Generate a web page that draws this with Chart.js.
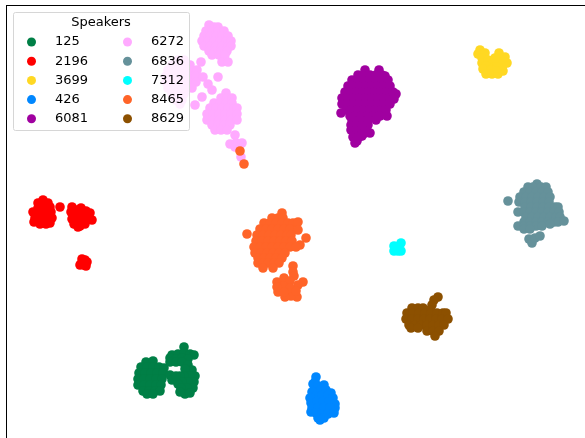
<!DOCTYPE html>
<html>
<head>
<meta charset="utf-8">
<style>
  html, body { margin: 0; padding: 0; background: #fff; }
  #wrap { width: 585px; height: 438px; }
</style>
<script src="https://cdn.jsdelivr.net/npm/chart.js@4"></script>
</head>
<body>
<div id="wrap"><canvas id="chart" width="585" height="438"></canvas></div>
<script>
const speakers = ["125", "2196", "3699", "426", "6081", "6272", "6836", "7312", "8465", "8629"];
const colors = ["#007f46", "#ff0000", "#ffd823", "#0087ff", "#a000a0", "#ffaaff", "#65919a", "#00ffff", "#ff6428", "#8c5000"];

// embedding coordinates, [x, y]
const s125 = [[146,362],[153,361],[141,367],[147,367],[153,367],[159,367],[164,368],[139,373],[145,373],[151,373],[157,373],[163,373],[138,379],[144,379],[150,379],[156,379],[162,379],[138,385],[144,385],[150,385],[156,385],[161,385],[143,391],[149,391],[155,391],[160,391],[147,394],[153,394],
  [184,347],[172,355],[178,354],[184,353],[190,354],[194,355],[170,358],[176,359],[182,358],[188,359],[170,362],[176,362],[182,362],
  [188,365],[192,370],[185,369],[195,376],[190,376],[184,376],[180,376],[194,382],[188,382],[182,382],[178,384],[193,388],[187,388],[181,388],[185,394],[190,393],[180,392],[170,375],[172,380],[176,376]];
const s2196 = [[43,200],[38,203],[48,203],[50,207],[44,206],[38,208],[33,212],[39,213],[45,212],[51,212],[35,218],[41,218],[47,218],[52,218],[34,222],[40,224],[46,224],[50,223],
  [60,207],
  [72,207],[71,212],[76,210],[81,208],[86,211],[90,213],[76,216],[82,214],[88,217],[92,220],[72,219],[78,221],[84,220],[74,224],[80,226],[78,227],[85,224],
  [82,259],[85,260],[87,262],[81,264],[84,265],[86,266],[80,265]];
const s3699 = [[480,50],[478,54],[485,53],[482,58],[482,63],[488,60],[492,64],[486,66],[483,69],[493,68],[491,70],[486,74],[492,74],[498,74],[503,71],[497,68],[503,65],[507,63],[497,62],[502,59],[505,57],[499,53],[495,58]];
const s426 = [[316,377],[315,382],[313,384],[318,386],[324,385],[320,391],[326,390],[331,393],[312,392],[316,396],[322,396],[328,396],[333,398],[310,398],[311,403],[317,402],[323,402],[329,402],[335,404],[335,408],[312,408],[318,408],[324,408],[330,408],[311,412],[316,413],[322,414],[328,414],[334,413],[318,418],[324,418],[320,420]];
const s6081 = [[365,70],[379,70],
  [358,75],[364,75],[370,75],[376,75],[382,75],[385,76],
  [352,80],[358,80],[364,80],[370,80],[376,80],[382,80],[388,80],
  [348,86],[354,86],[360,86],[366,86],[372,86],[378,86],[384,86],[390,86],
  [345,92],[351,92],[357,92],[363,92],[369,92],[375,92],[381,92],[387,92],[393,92],[396,94],
  [342,98],[348,98],[354,98],[360,98],[366,98],[372,98],[378,98],[384,98],[390,98],[394,99],
  [342,104],[348,104],[354,104],[360,104],[366,104],[372,104],[378,104],[384,104],[390,104],
  [346,110],[352,110],[358,110],[364,110],[370,110],[376,110],[382,110],[386,110],[341,113],
  [350,116],[356,116],[362,116],[368,116],[374,116],[380,116],[387,116],
  [352,120],[360,120],[368,120],[376,120],
  [351,125],[357,125],[363,125],[368,125],[351,130],[357,130],[362,130],[370,133],[365,133],[353,137],[359,137],[362,136],[355,143],[357,141]];
const s6272 = [[209,25],[214,27],[218,27],[206,31],[212,31],[218,31],[224,31],[204,36],[210,36],[216,36],[222,36],[228,36],[202,41],[208,41],[214,41],[220,41],[226,41],[231,41],[204,46],[210,46],[216,46],[222,46],[228,46],[231,46],[209,51],[215,51],[221,51],[227,51],[212,55],[219,55],[225,55],[222,62],[228,62],
  [178,60],[184,60],[172,65],[178,65],[184,65],[190,65],[201,62],[168,70],[174,70],[180,70],[186,70],[192,70],[197,70],[166,76],[172,76],[178,76],[184,76],[190,76],[196,76],[203,77],[166,82],[172,82],[178,82],[184,82],[190,82],[196,82],[168,88],[174,88],[180,88],[186,88],[192,88],[172,94],[178,94],[184,94],[176,100],[182,100],[180,104],
  [218,77],[208,84],[212,90],[202,97],[195,105],
  [226,93],[221,98],[227,98],[232,98],[214,103],[220,103],[226,103],[232,103],[210,108],[216,108],[222,108],[228,108],[234,108],[237,108],[207,114],[213,114],[219,114],[225,114],[231,114],[237,114],[207,120],[213,120],[219,120],[225,120],[231,120],[237,120],[212,125],[218,125],[224,125],[230,125],[215,130],[221,130],[227,130],
  [235,135],[230,144],[236,143],[242,143],[235,147],[241,157]];
const s6836 = [[508,201],[537,184],[528,187],[533,187],[541,187],[546,187],[524,192],[530,192],[536,192],[542,192],[548,192],[520,197],[526,197],[532,197],[538,197],[544,197],[550,197],[519,202],[525,202],[531,202],[537,202],[543,202],[549,202],[525,207],[531,207],[537,207],[543,207],[549,207],[555,207],[558,207],[518,212],[524,212],[530,212],[536,212],[542,212],[548,212],[554,212],[559,212],[526,217],[532,217],[538,217],[544,217],[550,217],[556,217],[560,217],[524,222],[530,222],[536,222],[542,222],[548,222],[554,222],[558,222],[564,221],[518,226],[524,226],[530,226],[536,226],[542,226],[550,224],[524,229],[530,229],
  [529,239],[532,243],[535,238],[540,236]];
const s7312 = [[401,243],[396,247],[394,246],[394,251],[398,251],[401,251]];
const s8465 = [[240,151],[244,164],
  [247,234],[282,213],[272,218],[278,218],[283,218],[264,223],[270,223],[276,223],[282,223],[288,223],[293,223],[298,222],
  [260,229],[266,229],[272,229],[278,229],[284,229],[290,229],[298,230],
  [257,235],[263,235],[269,235],[275,235],[281,235],[287,235],[291,235],[306,238],
  [256,241],[262,241],[268,241],[274,241],[280,241],[286,241],[292,241],
  [254,247],[260,247],[266,247],[272,247],[278,247],[284,247],[290,247],[300,245],[296,247],
  [255,253],[261,253],[267,253],[273,253],[279,253],[285,253],
  [258,258],[264,258],[270,258],[276,258],[282,258],[258,263],[263,263],[268,263],[274,263],[279,263],[263,268],[273,268],
  [293,266],[293,272],[294,276],[303,282],[298,285],[297,297],[291,296],[285,297],[278,292],[277,282],[284,278],[290,281],[283,286],[290,288],[296,291],[277,287],[284,292]];
const s8629 = [[438,297],[434,300],[432,305],[430,310],[412,308],[418,308],[423,308],[407,313],[413,313],[419,313],[425,313],[431,313],[437,313],[443,313],[446,313],
  [406,319],[412,319],[418,319],[424,319],[430,319],[436,319],[442,319],[448,319],[409,325],[415,325],[421,325],[427,325],[433,325],[439,325],[444,325],[411,328],[418,328],[427,331],[433,331],[439,331],[435,336]];

const seriesPoints = [s125, s2196, s3699, s426, s6081, s6272, s6836, s7312, s8465, s8629];

// matplotlib style legend: two columns, title on top, see-through box
const speakerLegend = {
  id: "speakerLegend",
  afterDraw(chart) {
    const ctx = chart.ctx;
    ctx.save();
    ctx.beginPath();
    ctx.roundRect(13.5, 12.5, 176, 118, 2);
    ctx.fillStyle = "rgba(255,255,255,0.8)";
    ctx.fill();
    ctx.strokeStyle = "#d6d6d6";
    ctx.lineWidth = 1;
    ctx.stroke();

    ctx.font = "13px 'DejaVu Sans'";
    ctx.textBaseline = "middle";
    ctx.fillStyle = "#000";
    ctx.textAlign = "center";
    ctx.fillText("Speakers", 101, 22.5);
    ctx.textAlign = "left";
    speakers.forEach((name, i) => {
      const col = i < 5 ? 0 : 1;
      const row = i % 5;
      const y = 42 + row * 19.2;
      ctx.beginPath();
      ctx.arc(col ? 127.5 : 31.5, y, 4.5, 0, Math.PI * 2);
      ctx.fillStyle = colors[i];
      ctx.fill();
      ctx.fillStyle = "#000";
      ctx.fillText(name, col ? 151 : 55, y);
    });
    ctx.restore();
  },
};

new Chart(document.getElementById("chart"), {
  type: "scatter",
  data: {
    datasets: speakers.map((name, i) => ({
      label: name,
      data: seriesPoints[i].map(([x, y]) => ({ x, y })),
      backgroundColor: colors[i],
      borderWidth: 0,
      pointRadius: 4.8,
      order: speakers.length - i, // later speakers sit on top
    })),
  },
  options: {
    responsive: false,
    animation: false,
    layout: { autoPadding: false, padding: { left: 6, top: 5, right: 0, bottom: 0 } },
    plugins: { legend: { display: false }, tooltip: { enabled: false } },
    scales: {
      x: {
        position: "top",
        min: 6,
        max: 585,
        ticks: { display: false },
        grid: { display: false, drawTicks: false },
        border: { display: true, color: "#000", width: 1 },
      },
      y: {
        position: "left",
        reverse: true,
        min: 5,
        max: 438,
        ticks: { display: false },
        grid: { display: false, drawTicks: false },
        border: { display: true, color: "#000", width: 1 },
      },
    },
  },
  plugins: [speakerLegend],
});
</script>
</body>
</html>
